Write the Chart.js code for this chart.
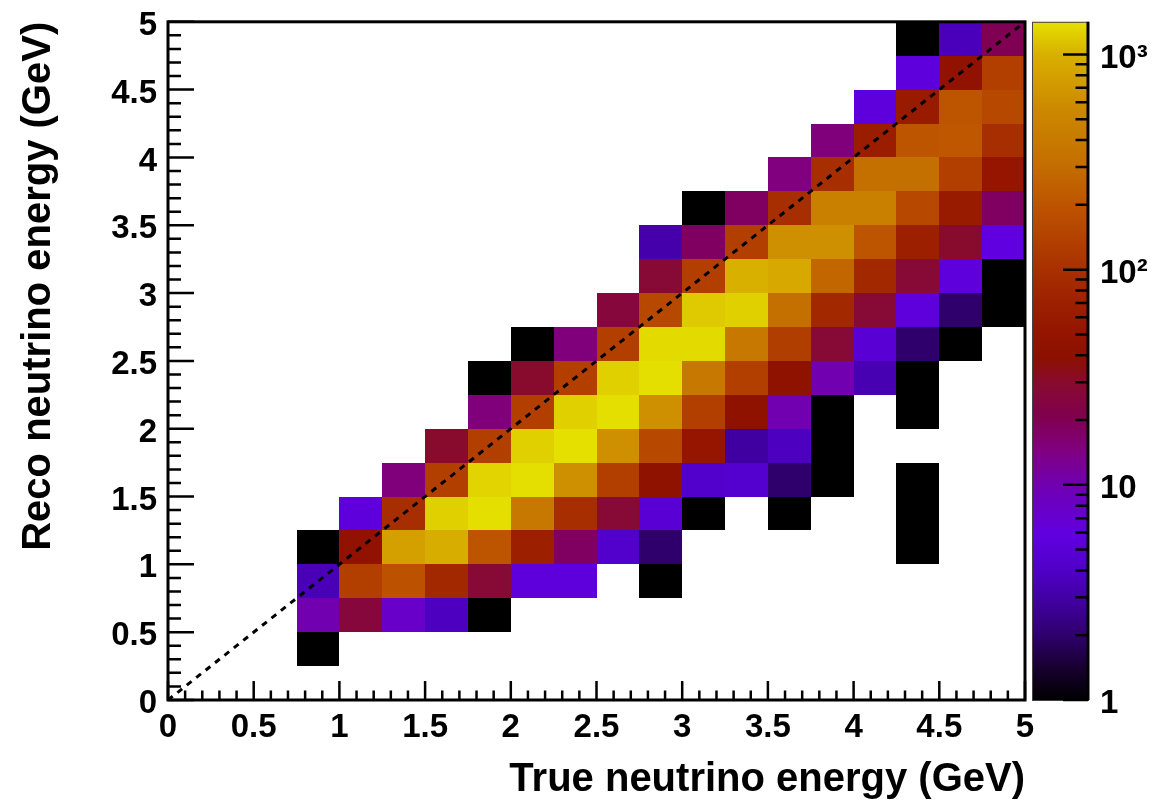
<!DOCTYPE html>
<html>
<head>
<meta charset="utf-8">
<title>True vs reco neutrino energy</title>
<script src="https://cdn.jsdelivr.net/npm/chart.js@4.4.1/dist/chart.umd.min.js"></script>
<style>
  html, body { margin: 0; padding: 0; background: #fff; }
  #wrap { width: 1160px; height: 804px; }
</style>
</head>
<body>
<div id="wrap"><canvas id="hist" width="1160" height="804"></canvas></div>
<script>
// --- Data ---

// lower edges of the 0.25 GeV bins
const trueBins = [0, 0.25, 0.5, 0.75, 1, 1.25, 1.5, 1.75, 2, 2.25,
                  2.5, 2.75, 3, 3.25, 3.5, 3.75, 4, 4.25, 4.5, 4.75];
// top row first, so counts reads like the picture
const recoBins = [4.75, 4.5, 4.25, 4, 3.75, 3.5, 3.25, 3, 2.75, 2.5,
                  2.25, 2, 1.75, 1.5, 1.25, 1, 0.75, 0.5, 0.25, 0];
const binWidth = 0.25;

// entries per bin (0 = empty), rows = reco bins, columns = true bins
const counts = [
  [0, 0, 0, 0, 0, 0, 0, 0, 0, 0, 0, 0, 0, 0, 0, 0, 0, 1, 3.6, 20],
  [0, 0, 0, 0, 0, 0, 0, 0, 0, 0, 0, 0, 0, 0, 0, 0, 0, 5.5, 45, 135],
  [0, 0, 0, 0, 0, 0, 0, 0, 0, 0, 0, 0, 0, 0, 0, 0, 5.5, 60, 200, 160],
  [0, 0, 0, 0, 0, 0, 0, 0, 0, 0, 0, 0, 0, 0, 0, 15, 63, 200, 210, 95],
  [0, 0, 0, 0, 0, 0, 0, 0, 0, 0, 0, 0, 0, 0, 14.5, 95, 316, 316, 135, 52],
  [0, 0, 0, 0, 0, 0, 0, 0, 0, 0, 0, 0, 1, 18, 95, 460, 460, 160, 60, 18],
  [0, 0, 0, 0, 0, 0, 0, 0, 0, 0, 0, 3.2, 18, 135, 620, 620, 200, 69, 30, 5.9],
  [0, 0, 0, 0, 0, 0, 0, 0, 0, 0, 0, 28, 135, 1000, 890, 270, 83, 28, 5.5, 1],
  [0, 0, 0, 0, 0, 0, 0, 0, 0, 0, 26, 160, 1200, 1260, 316, 83, 28, 5.5, 2, 1],
  [0, 0, 0, 0, 0, 0, 0, 0, 1, 15, 135, 1350, 1350, 380, 130, 28, 5, 2, 1, 0],
  [0, 0, 0, 0, 0, 0, 0, 1, 30, 135, 1260, 1400, 380, 135, 43, 10, 3.4, 1, 0, 0],
  [0, 0, 0, 0, 0, 0, 0, 15, 135, 1260, 1400, 620, 135, 43, 10, 1, 0, 1, 0, 0],
  [0, 0, 0, 0, 0, 0, 30, 135, 1260, 1410, 620, 160, 52, 2.9, 3.8, 1, 0, 0, 0, 0],
  [0, 0, 0, 0, 0, 15, 135, 1300, 1400, 620, 135, 43, 4.3, 4.5, 2, 1, 0, 1, 0, 0],
  [0, 0, 0, 0, 5.5, 95, 1260, 1400, 380, 95, 28, 5, 1, 0, 1, 0, 0, 1, 0, 0],
  [0, 0, 0, 1, 45, 790, 950, 200, 69, 18, 4.3, 2, 0, 0, 0, 0, 0, 1, 0, 0],
  [0, 0, 0, 3.5, 135, 190, 83, 28, 5.5, 5.5, 0, 1, 0, 0, 0, 0, 0, 0, 0, 0],
  [0, 0, 0, 10, 26, 7.6, 3.8, 1, 0, 0, 0, 0, 0, 0, 0, 0, 0, 0, 0, 0],
  [0, 0, 0, 1, 0, 0, 0, 0, 0, 0, 0, 0, 0, 0, 0, 0, 0, 0, 0, 0],
  [0, 0, 0, 0, 0, 0, 0, 0, 0, 0, 0, 0, 0, 0, 0, 0, 0, 0, 0, 0]
];

// reco = true reference line
const diagTrue = [0, 5];
const diagReco = [0, 5];

// axis labels (every 0.5 GeV), minor marks every 0.1 GeV
const axisLabels = ['0', '0.5', '1', '1.5', '2', '2.5', '3', '3.5', '4', '4.5', '5'];

// colour axis (log)
const zMin = 1;
const zMax = 1418;
const zMajorTicks = [1, 10, 100, 1000];
const zTickLabels = ['1', '10', '10\u00b2', '10\u00b3'];
const zMinorTicks = [2, 3, 4, 5, 6, 7, 8, 9, 20, 30, 40, 50, 60, 70, 80, 90,
                     200, 300, 400, 500, 600, 700, 800, 900];

// palette stops: log10(value) -> colour
const paletteLog = [0, 0.15, 0.31, 0.46, 0.61, 0.77, 1.0, 1.16, 1.31, 1.47,
                    1.59, 1.70, 1.84, 2.0, 2.27, 2.5, 2.74, 3.0, 3.15];
const paletteHex = ['#000000', '#180030', '#300070', '#4000a0', '#5000c8', '#6000e0',
                    '#7000b0', '#800080', '#800050', '#880a30', '#8c1000', '#941400',
                    '#9c2000', '#a83000', '#bc5000', '#c47000', '#cc8800', '#d8b000', '#e5e000'];

const FONT = '"Liberation Sans", Arial, Helvetica, sans-serif';
const HIDDEN = 'rgba(0,0,0,0)';

// --- Helpers ---

function hexToRgb(h) {
    const n = parseInt(h.slice(1), 16);
    return [(n >> 16) & 255, (n >> 8) & 255, n & 255];
}
const paletteRgb = paletteHex.map(hexToRgb);

function colorFor(v) {
    const lv = Math.log10(Math.max(v, zMin));
    if (lv <= paletteLog[0]) return paletteHex[0];
    const last = paletteLog.length - 1;
    if (lv >= paletteLog[last]) return paletteHex[last];
    let k = 0;
    while (paletteLog[k + 1] < lv) k++;
    const f = (lv - paletteLog[k]) / (paletteLog[k + 1] - paletteLog[k]);
    const a = paletteRgb[k], b = paletteRgb[k + 1];
    const c = a.map((x, i) => Math.round(x + (b[i] - x) * f));
    return `rgb(${c[0]},${c[1]},${c[2]})`;
}

const tickValues = [];
for (let k = 0; k <= 50; k++) tickValues.push(k / 10);

function isLabelled(v) {
    return Math.round(v * 10) % 5 === 0;
}
function axisLabel(v) {
    const k = Math.round(v * 10);
    return k % 5 === 0 ? axisLabels[k / 5] : '';
}

// one point per filled bin; the plugin turns them into boxes
const cells = [];
recoBins.forEach((yLow, r) => {
    trueBins.forEach((xLow, c) => {
        const v = counts[r][c];
        if (v > 0) cells.push({ x: xLow, y: yLow, v });
    });
});

// --- Drawing plugin (boxes, frame, ROOT style inward ticks, colour bar) ---

const histPlugin = {
    id: 'hist2d',
    beforeDatasetsDraw(chart) {
        const { ctx, scales: { x, y } } = chart;
        const pts = chart.data.datasets[1].data;
        ctx.save();
        pts.forEach(p => {
            const x0 = Math.round(x.getPixelForValue(p.x));
            const x1 = Math.round(x.getPixelForValue(p.x + binWidth));
            const y0 = Math.round(y.getPixelForValue(p.y + binWidth));
            const y1 = Math.round(y.getPixelForValue(p.y));
            ctx.fillStyle = colorFor(p.v);
            ctx.fillRect(x0, y0, x1 - x0, y1 - y0);
        });
        ctx.restore();
    },
    afterDatasetsDraw(chart) {
        const { ctx, chartArea: a, scales: { x, y, z } } = chart;
        ctx.save();
        ctx.strokeStyle = '#000';

        // frame
        ctx.lineWidth = 3;
        ctx.strokeRect(a.left, a.top, a.right - a.left, a.bottom - a.top);

        // inward tick marks
        ctx.lineWidth = 2.5;
        ctx.beginPath();
        x.ticks.forEach(t => {
            const px = x.getPixelForValue(t.value);
            const len = isLabelled(t.value) ? 19 : 9.5;
            ctx.moveTo(px, a.bottom);
            ctx.lineTo(px, a.bottom - len);
        });
        y.ticks.forEach(t => {
            const py = y.getPixelForValue(t.value);
            const len = isLabelled(t.value) ? 26 : 13;
            ctx.moveTo(a.left, py);
            ctx.lineTo(a.left + len, py);
        });
        ctx.stroke();

        // colour bar
        const bl = a.right + 7, br = a.right + 63;
        const grad = ctx.createLinearGradient(0, z.bottom, 0, z.top);
        const span = z.bottom - z.top;
        paletteLog.forEach((lv, k) => {
            const py = z.getPixelForValue(Math.min(Math.pow(10, lv), zMax));
            grad.addColorStop(Math.min(1, Math.max(0, (z.bottom - py) / span)), paletteHex[k]);
        });
        ctx.fillStyle = grad;
        ctx.fillRect(bl, z.top, br - bl, span);
        ctx.lineWidth = 1;
        ctx.strokeStyle = '#444';
        ctx.strokeRect(bl + 0.5, z.top + 0.5, br - bl, span);

        ctx.strokeStyle = '#000';
        ctx.lineWidth = 3;
        ctx.beginPath();
        ctx.moveTo(br, z.top);
        ctx.lineTo(br, z.bottom);
        ctx.stroke();

        ctx.lineWidth = 2.5;
        ctx.beginPath();
        z.ticks.forEach(t => {
            const py = z.getPixelForValue(t.value);
            const len = zMajorTicks.includes(t.value) ? 25 : 12.5;
            ctx.moveTo(br, py);
            ctx.lineTo(br - len, py);
        });
        ctx.stroke();
        ctx.restore();
    }
};

// --- Chart ---

function initChart() {
    const ctx = document.getElementById('hist');
    new Chart(ctx, {
        type: 'scatter',
        data: {
            datasets: [{
                label: 'reco = true',
                data: diagTrue.map((v, k) => ({ x: v, y: diagReco[k] })),
                showLine: true,
                borderColor: '#000',
                borderWidth: 3,
                borderDash: [6, 6],
                pointRadius: 0,
                xAxisID: 'x',
                yAxisID: 'y'
            }, {
                label: 'entries',
                data: cells,
                pointRadius: 0,
                pointHoverRadius: 0,
                xAxisID: 'x',
                yAxisID: 'y'
            }]
        },
        options: {
            responsive: false,
            animation: false,
            events: [],
            layout: { padding: { top: 20, left: 0, right: 0, bottom: 0 } },
            plugins: {
                legend: { display: false },
                tooltip: { enabled: false }
            },
            scales: {
                x: {
                    type: 'linear',
                    position: 'bottom',
                    min: 0,
                    max: 5,
                    afterBuildTicks: s => { s.ticks = tickValues.map(v => ({ value: v })); },
                    afterFit: s => { s.height = 104; },
                    grid: { display: true, drawOnChartArea: false, drawTicks: true, tickLength: 6, color: HIDDEN },
                    border: { display: false },
                    ticks: {
                        autoSkip: false,
                        maxRotation: 0,
                        minRotation: 0,
                        padding: 2,
                        color: '#000',
                        font: { family: FONT, size: 33, weight: 'bold' },
                        callback: v => axisLabel(v)
                    },
                    title: {
                        display: true,
                        text: 'True neutrino energy (GeV)',
                        align: 'end',
                        color: '#000',
                        padding: { top: 2, bottom: 0 },
                        font: { family: FONT, size: 40, weight: 'bold' }
                    }
                },
                y: {
                    type: 'linear',
                    position: 'left',
                    min: 0,
                    max: 5,
                    afterBuildTicks: s => { s.ticks = tickValues.map(v => ({ value: v })); },
                    afterFit: s => { s.width = 168; },
                    grid: { display: true, drawOnChartArea: false, drawTicks: true, tickLength: 11, color: HIDDEN },
                    border: { display: false },
                    ticks: {
                        autoSkip: false,
                        padding: 0,
                        labelOffset: 4,
                        color: '#000',
                        font: { family: FONT, size: 33, weight: 'bold' },
                        callback: v => axisLabel(v)
                    },
                    title: {
                        display: true,
                        text: 'Reco neutrino energy (GeV)',
                        align: 'end',
                        color: '#000',
                        padding: { top: 15, bottom: 0 },
                        font: { family: FONT, size: 40, weight: 'bold' }
                    }
                },
                z: {
                    type: 'logarithmic',
                    position: 'right',
                    min: zMin,
                    max: zMax,
                    afterBuildTicks: s => {
                        s.ticks = zMajorTicks.concat(zMinorTicks)
                            .sort((p, q) => p - q)
                            .map(v => ({ value: v }));
                    },
                    afterFit: s => { s.width = 135; },
                    grid: { display: true, drawOnChartArea: false, drawTicks: true, tickLength: 73, color: HIDDEN },
                    border: { display: false },
                    ticks: {
                        autoSkip: false,
                        padding: 2,
                        labelOffset: 4,
                        color: '#000',
                        font: { family: FONT, size: 33, weight: 'bold' },
                        callback: v => {
                            const k = zMajorTicks.indexOf(v);
                            return k >= 0 ? zTickLabels[k] : '';
                        }
                    }
                }
            }
        },
        plugins: [histPlugin]
    });
}

initChart();
</script>
</body>
</html>
